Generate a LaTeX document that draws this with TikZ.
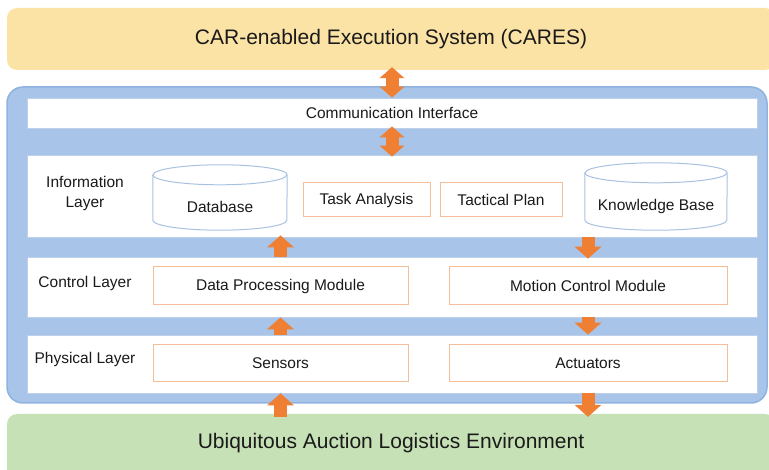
\documentclass[tikz,border=0pt]{standalone}
\usepackage{fontspec}
\setmainfont{Liberation Sans}
\usetikzlibrary{arrows.meta,calc}
\definecolor{cyel}{HTML}{FBE3A6}
\definecolor{cblue}{HTML}{A8C4E8}
\definecolor{cbluedark}{HTML}{8FB3E0}
\definecolor{cgreen}{HTML}{C7E1B6}
\definecolor{carr}{HTML}{EE7F33}
\definecolor{obord}{HTML}{F5BE9B}
\definecolor{cbord}{HTML}{A9C1E0}
\definecolor{wbord}{HTML}{BCD0EA}
\definecolor{txt}{HTML}{1A1A1A}
\begin{document}
\begin{tikzpicture}[x=1pt,y=1pt,
  every node/.style={font=\fontsize{15.5}{20}\selectfont, text=txt},
  layerbox/.style={draw=wbord, line width=0.8pt, fill=white, minimum width=730pt, inner sep=0pt},
  obox/.style={draw=obord, line width=1pt, fill=white, inner sep=0pt},
  blk/.style={draw=carr, line width=13pt, -{Triangle[width=27pt,length=12pt,line width=0pt]}},
  dblk/.style={draw=carr, line width=13pt, {Triangle[width=25pt,length=11pt,line width=0pt]}-{Triangle[width=25pt,length=11pt,line width=0pt]}},
  cyl/.style={draw=cbord, line width=1pt}]
\useasboundingbox (0,0) rectangle (769,469);
% top system
\node[fill=cyel, rounded corners=10pt, minimum width=768pt, minimum height=62pt, inner sep=0pt, font=\fontsize{21}{25}\selectfont] (cares) at (391,430) {CAR-enabled Execution System (CARES)};
% container
\node[fill=cblue, draw=cbluedark, line width=1.5pt, rounded corners=16pt, minimum width=760pt, minimum height=316pt, inner sep=0pt] (sys) at (387,224) {};
% environment
\node[fill=cgreen, rounded corners=10pt, minimum width=768pt, minimum height=70pt, inner sep=0pt] (env) at (391,20) {};
\node[font=\fontsize{21}{25}\selectfont] (envT) at (391,26) {Ubiquitous Auction Logistics Environment};
% layers
\node[layerbox, minimum height=30pt] (comm) at (392,356) {Communication Interface};
\node[layerbox, minimum height=82pt] (info) at (392,273) {};
\node[layerbox, minimum height=60pt] (control) at (392,182) {};
\node[layerbox, minimum height=58pt] (physical) at (392,105) {};
% layer labels
\node[align=center] (infoL) at (85,276) {Information\\Layer};
\node (ctrlL) at (85,186) {Control Layer};
\node (physL) at (85,110) {Physical Layer};
% information layer content
\node[minimum width=134pt, minimum height=65pt, inner sep=0pt] (db) at (220,271.5) {};
\draw[cyl, fill=white] ([yshift=-10pt]db.north west) -- ([yshift=10pt]db.south west)
  arc[start angle=180, end angle=360, x radius=67pt, y radius=10pt]
  -- ([yshift=-10pt]db.north east)
  arc[start angle=0, end angle=180, x radius=67pt, y radius=10pt] -- cycle;
\draw[cyl] ([yshift=-10pt]db.north west) arc[start angle=180, end angle=360, x radius=67pt, y radius=10pt];
\node (dbT) at (220,262) {Database};
\node[minimum width=142pt, minimum height=67pt, inner sep=0pt] (kb) at (656,272.5) {};
\draw[cyl, fill=white] ([yshift=-10pt]kb.north west) -- ([yshift=10pt]kb.south west)
  arc[start angle=180, end angle=360, x radius=71pt, y radius=10pt]
  -- ([yshift=-10pt]kb.north east)
  arc[start angle=0, end angle=180, x radius=71pt, y radius=10pt] -- cycle;
\draw[cyl] ([yshift=-10pt]kb.north west) arc[start angle=180, end angle=360, x radius=71pt, y radius=10pt];
\node (kbT) at (656,263) {Knowledge Base};
\node[obox, minimum width=127pt, minimum height=34pt] (task) at (366.5,269) {Task Analysis};
\node[obox, minimum width=122pt, minimum height=34pt] (tact) at (501,269) {Tactical Plan};
% control layer content
\node[obox, minimum width=255pt, minimum height=38pt] (dpm) at (280.5,183) {Data Processing Module};
\node[obox, minimum width=278pt, minimum height=38pt] (mcm) at (588,183) {Motion Control Module};
% physical layer content
\node[obox, minimum width=255pt, minimum height=37pt] (sens) at (280.5,105.5) {Sensors};
\node[obox, minimum width=278pt, minimum height=37pt] (act) at (588,105.5) {Actuators};
% arrows
\draw[dblk, shorten <=-3pt] (comm.north |- cares.south) -- (comm.north);
\draw[dblk, shorten <=-2pt, shorten >=-2pt] (comm.south) -- (info.north);
\draw[blk, shorten >=-2pt] (dpm.north |- control.north) -- (dpm.north |- info.south);
\draw[blk, shorten >=-2pt] (mcm.north |- info.south) -- (mcm.north |- control.north);
\draw[blk] (sens.north |- physical.north) -- (sens.north |- control.south);
\draw[blk] (act.north |- control.south) -- (act.north |- physical.north);
\draw[blk, shorten <=-3pt] (sens.south |- env.north) -- (sens.south |- physical.south);
\draw[blk, shorten >=-3pt] (act.south |- physical.south) -- (act.south |- env.north);
\end{tikzpicture}
\end{document}
